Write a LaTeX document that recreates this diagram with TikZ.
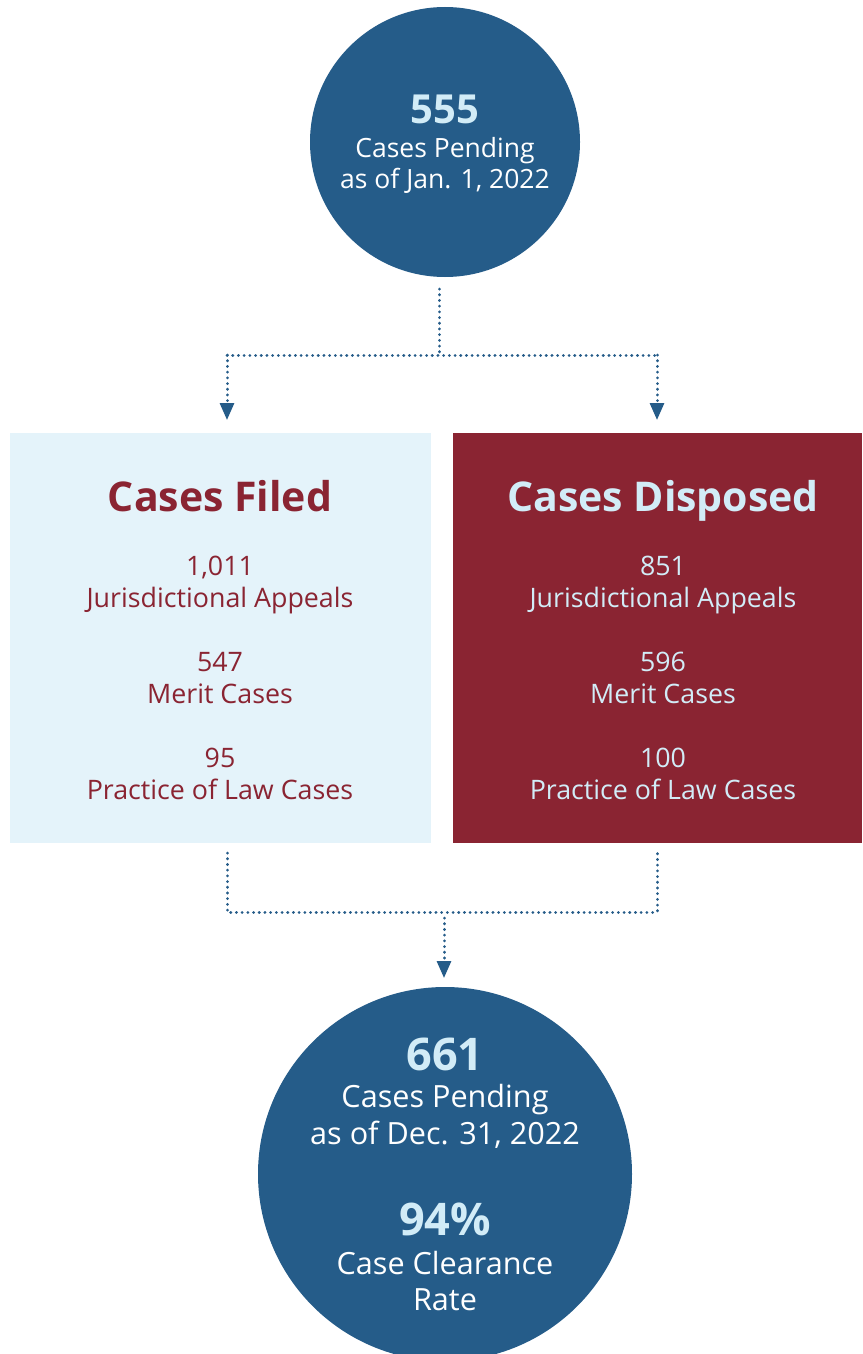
\documentclass[tikz,border=0pt]{standalone}
\usepackage{fontspec}
\setmainfont{Open Sans}
\usetikzlibrary{arrows.meta}
\definecolor{cblue}{HTML}{255C89}
\definecolor{clight}{HTML}{E4F3FA}
\definecolor{cmaroon}{HTML}{8A2432}
\definecolor{cpale}{HTML}{D2ECF7}
\tikzset{
  circ/.style={circle,fill=cblue,inner sep=0pt},
  boxA/.style={rectangle,fill=clight,inner sep=0pt,anchor=north west},
  boxB/.style={rectangle,fill=cmaroon,inner sep=0pt,anchor=north west},
  txt/.style={anchor=base,inner sep=0pt,align=center},
  conn/.style={draw=cblue,line width=3pt,line cap=round,dash pattern=on 0.1pt off 5.6pt},
  tip/.style={-{Triangle[width=14pt,length=17pt]}},
  body/.style={font=\fontsize{26.8}{32}\selectfont}
}
\begin{document}
\begin{tikzpicture}[x=1pt,y=-1pt]
\useasboundingbox (0,0) rectangle (862,1354);
\clip (0,0) rectangle (862,1354);
% shapes
\node[circ,minimum size=270pt] (top) at (445,142) {};
\node[boxA,minimum width=421pt,minimum height=410pt] (filed) at (10,433) {};
\node[boxB,minimum width=409pt,minimum height=410pt] (disp) at (453,433) {};
\node[circ,minimum size=374pt] (bot) at (445,1174) {};
% top circle text (base = last line)
\node[txt,font=\bfseries\fontsize{40}{40}\selectfont,text=cpale] (n555) at (445,123) {555};
\node[txt,font=\fontsize{26.5}{31}\selectfont,text=white] (t1) at (445,188) {Cases Pending\\as of Jan. 1, 2022};
% filed box
\node[txt,font=\bfseries\fontsize{41}{41}\selectfont,text=cmaroon] (tf) at (220,511) {Cases Filed};
\node[txt,body,text=cmaroon] (f1) at (220,607) {1,011\\Jurisdictional Appeals};
\node[txt,body,text=cmaroon] (f2) at (220,703) {547\\Merit Cases};
\node[txt,body,text=cmaroon] (f3) at (220,799) {95\\Practice of Law Cases};
% disposed box
\node[txt,font=\bfseries\fontsize{41}{41}\selectfont,text=cpale] (td) at (663,511) {Cases Disposed};
\node[txt,body,text=cpale] (d1) at (663,607) {851\\Jurisdictional Appeals};
\node[txt,body,text=cpale] (d2) at (663,703) {596\\Merit Cases};
\node[txt,body,text=cpale] (d3) at (663,799) {100\\Practice of Law Cases};
% bottom circle text
\node[txt,font=\bfseries\fontsize{45}{45}\selectfont,text=cpale] (n661) at (445,1070) {661};
\node[txt,font=\fontsize{30.6}{37}\selectfont,text=white] (t2) at (445,1144) {Cases Pending\\as of Dec. 31, 2022};
\node[txt,font=\bfseries\fontsize{45}{45}\selectfont,text=cpale] (n94) at (445,1235) {94\%};
\node[txt,font=\fontsize{30.6}{36}\selectfont,text=white] (t3) at (445,1310) {Case Clearance\\Rate};
% connectors
\coordinate (s1) at (439,289);
\coordinate (j1) at (439,355);
\coordinate (jl) at (227,355);
\coordinate (jr) at (657,355);
\coordinate (al) at (227,420);
\coordinate (ar) at (657,420);
\draw[conn] (s1) -- (j1);
\draw[conn] (jl) -- (jr);
\draw[conn,tip] (jl) -- (al);
\draw[conn,tip] (jr) -- (ar);
\coordinate (bl) at (227,853);
\coordinate (br) at (657,853);
\coordinate (bl2) at (227,912);
\coordinate (br2) at (657,912);
\coordinate (bc) at (444,918);
\coordinate (ab) at (444,978);
\draw[conn] (bl) -- (bl2) -- (br2) -- (br);
\draw[conn,tip] (bc) -- (ab);
\end{tikzpicture}
\end{document}
